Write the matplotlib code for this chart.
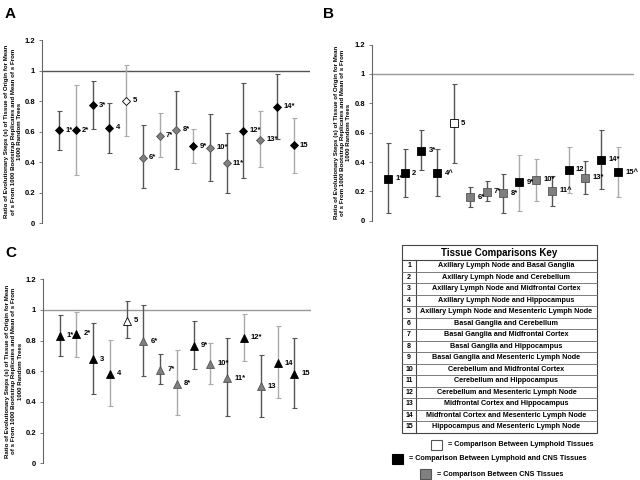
import numpy as np
import matplotlib
matplotlib.use("Agg")
import matplotlib.pyplot as plt
from matplotlib.patches import Rectangle

plt.rcParams['font.family'] = ['Liberation Sans', 'DejaVu Sans']
plt.rcParams['font.weight'] = 'bold'

# -------------------------------------------------------
# Data
# -------------------------------------------------------
comparisons = list(range(1, 16))
# L = lymphoid/lymphoid, X = lymphoid/CNS, C = CNS/CNS
comp_type = ['X', 'X', 'X', 'X', 'L', 'C', 'C', 'C', 'X', 'C', 'C', 'X', 'C', 'X', 'X']

labels_A = ["1*", "2*", "3*", "4", "5", "6*", "7*", "8*", "9*", "10*", "11*", "12*", "13*", "14*", "15"]
mean_A = [0.61, 0.61, 0.775, 0.625, 0.805, 0.43, 0.575, 0.613, 0.505, 0.494, 0.394, 0.606, 0.549, 0.764, 0.51]
low_A = [0.48, 0.315, 0.615, 0.46, 0.571, 0.23, 0.433, 0.357, 0.396, 0.274, 0.197, 0.295, 0.37, 0.554, 0.33]
high_A = [0.737, 0.906, 0.934, 0.788, 1.04, 0.643, 0.722, 0.867, 0.617, 0.716, 0.589, 0.919, 0.735, 0.978, 0.69]
bar_A = ['d', 'l', 'd', 'd', 'l', 'd', 'l', 'd', 'l', 'd', 'd', 'd', 'l', 'd', 'l']

labels_B = ["1*", "2", "3*", "4^", "5", "6*", "7*", "8*", "9*", "10*", "11^", "12", "13*", "14*", "15^"]
mean_B = [0.285, 0.324, 0.477, 0.324, 0.665, 0.16, 0.199, 0.186, 0.261, 0.279, 0.205, 0.348, 0.294, 0.417, 0.33]
low_B = [0.052, 0.162, 0.343, 0.168, 0.397, 0.091, 0.134, 0.052, 0.069, 0.134, 0.099, 0.192, 0.181, 0.22, 0.162]
high_B = [0.529, 0.488, 0.62, 0.49, 0.929, 0.231, 0.268, 0.317, 0.451, 0.423, 0.307, 0.503, 0.406, 0.62, 0.503]
bar_B = ['d', 'd', 'd', 'd', 'd', 'd', 'd', 'd', 'l', 'l', 'd', 'l', 'd', 'd', 'l']

labels_C = ["1*", "2*", "3", "4", "5", "6*", "7*", "8*", "9*", "10*", "11*", "12*", "13", "14", "15"]
mean_C = [0.833, 0.844, 0.68, 0.585, 0.931, 0.796, 0.611, 0.519, 0.766, 0.65, 0.556, 0.818, 0.502, 0.654, 0.585]
low_C = [0.70, 0.696, 0.454, 0.375, 0.814, 0.571, 0.519, 0.314, 0.613, 0.519, 0.305, 0.67, 0.299, 0.425, 0.36]
high_C = [0.97, 0.988, 0.918, 0.805, 1.058, 1.032, 0.711, 0.739, 0.925, 0.787, 0.814, 0.977, 0.709, 0.896, 0.818]
bar_C = ['d', 'l', 'd', 'l', 'd', 'd', 'd', 'l', 'd', 'l', 'd', 'l', 'd', 'l', 'd']

key_rows = [
    "Axillary Lymph Node and Basal Ganglia",
    "Axillary Lymph Node and Cerebellum",
    "Axillary Lymph Node and Midfrontal Cortex",
    "Axillary Lymph Node and Hippocampus",
    "Axillary Lymph Node and Mesenteric Lymph Node",
    "Basal Ganglia and Cerebellum",
    "Basal Ganglia and Midfrontal Cortex",
    "Basal Ganglia and Hippocampus",
    "Basal Ganglia and Mesenteric Lymph Node",
    "Cerebellum and Midfrontal Cortex",
    "Cerebellum and Hippocampus",
    "Cerebellum and Mesenteric Lymph Node",
    "Midfrontal Cortex and Hippocampus",
    "Midfrontal Cortex and Mesenteric Lymph Node",
    "Hippocampus and Mesenteric Lymph Node",
]
legend_text = [
    "= Comparison Between Lymphoid Tissues",
    "= Comparison Between Lymphoid and CNS Tissues",
    "= Comparison Between CNS Tissues",
]

face = {'L': 'white', 'X': 'black', 'C': '#7f7f7f'}
barcol = {'d': '#555555', 'l': '#aaaaaa'}
ylabel = ("Ratio of Evolutionary Steps (s) of Tissue of Origin for Mean\n"
          "of s From 1000 Bootstrap Replicates and Mean of s From\n"
          "1000 Random Trees")


# -------------------------------------------------------
# Panel helper
# -------------------------------------------------------
def panel(ax, labels, mean, low, high, bars, marker, ms, hcol, dx):
    ax.axhline(1.0, color=hcol, linewidth=1.0, zorder=1)
    for i, x in enumerate(comparisons):
        err = [[mean[i] - low[i]], [high[i] - mean[i]]]
        ax.errorbar([x], [mean[i]], yerr=err, fmt='none', ecolor=barcol[bars[i]],
                    elinewidth=1.0, capsize=1.8, capthick=0.8, zorder=2)
        ax.plot([x], [mean[i]], marker=marker, ms=ms, mfc=face[comp_type[i]],
                mec='black' if comp_type[i] != 'C' else '#555555', mew=0.6,
                linestyle='none', zorder=3)
        ax.text(x + dx, mean[i], labels[i], fontsize=5.5, fontweight='bold',
                va='center', ha='left', zorder=4)
    ax.set_xlim(0, 16)
    ax.set_ylim(0, 1.2)
    ax.set_yticks([0, 0.2, 0.4, 0.6, 0.8, 1.0, 1.2])
    ax.set_yticklabels(["0", "0.2", "0.4", "0.6", "0.8", "1", "1.2"])
    ax.set_xticks([])
    for s in ['top', 'right', 'bottom']:
        ax.spines[s].set_visible(False)
    ax.spines['left'].set_color('#666666')
    ax.spines['left'].set_linewidth(0.8)
    ax.tick_params(axis='y', labelsize=5.5, length=2, width=0.6, color='#666666', pad=3)
    ax.set_ylabel(ylabel, fontsize=4.4, fontweight='bold', labelpad=2, linespacing=1.3)


fig = plt.figure(figsize=(6.4, 4.8), dpi=100)

axA = fig.add_axes([0.066, 0.535, 0.419, 0.381])
panel(axA, labels_A, mean_A, low_A, high_A, bar_A, 'D', 4.3, '#555555', 0.38)

axB = fig.add_axes([0.581, 0.540, 0.410, 0.367])
panel(axB, labels_B, mean_B, low_B, high_B, bar_B, 's', 6.0, '#999999', 0.45)

axC = fig.add_axes([0.067, 0.035, 0.419, 0.383])
panel(axC, labels_C, mean_C, low_C, high_C, bar_C, '^', 5.5, '#999999', 0.42)

fig.text(0.008, 0.985, "A", fontsize=11, fontweight='bold', va='top')
fig.text(0.505, 0.985, "B", fontsize=11, fontweight='bold', va='top')
fig.text(0.008, 0.487, "C", fontsize=11, fontweight='bold', va='top')

# -------------------------------------------------------
# Tissue comparisons key (pixel coordinates overlay)
# -------------------------------------------------------
key = fig.add_axes([0, 0, 1, 1])
key.set_xlim(0, 640)
key.set_ylim(480, 0)
key.axis('off')

tx0, tx1, tdiv = 402, 597, 416
ttop, thead = 245, 260
rowh = (432.5 - thead) / len(key_rows)
key.add_patch(Rectangle((tx0, ttop), tx1 - tx0, thead + rowh * len(key_rows) - ttop,
                        fill=False, edgecolor='#444444', linewidth=0.8))
key.text((tx0 + tx1) / 2, (ttop + thead) / 2, "Tissue Comparisons Key",
         fontsize=7, fontweight='bold', ha='center', va='center')
key.plot([tx0, tx1], [thead, thead], color='#444444', linewidth=0.8)
key.plot([tdiv, tdiv], [thead, thead + rowh * len(key_rows)], color='#444444', linewidth=0.8)
for i, name in enumerate(key_rows):
    y0 = thead + rowh * i
    if i > 0:
        key.plot([tx0, tx1], [y0, y0], color='#666666', linewidth=0.6)
    key.text((tx0 + tdiv) / 2, y0 + rowh / 2, str(comparisons[i]), fontsize=5,
             fontweight='bold', ha='center', va='center')
    key.text((tdiv + tx1) / 2, y0 + rowh / 2, name, fontsize=5.2,
             fontweight='bold', ha='center', va='center')

# legend swatches
swatches = [(431, 440, 'white', '#555555'), (392, 454, 'black', 'black'), (420, 469, '#808080', '#555555')]
for (sx, sy, fc, ec), txt in zip(swatches, legend_text):
    key.add_patch(Rectangle((sx, sy), 11, 10, facecolor=fc, edgecolor=ec, linewidth=0.8))
    key.text(sx + 17, sy + 5, txt, fontsize=5.2, fontweight='bold', ha='left', va='center')

fig.savefig("out.png", dpi=100)
